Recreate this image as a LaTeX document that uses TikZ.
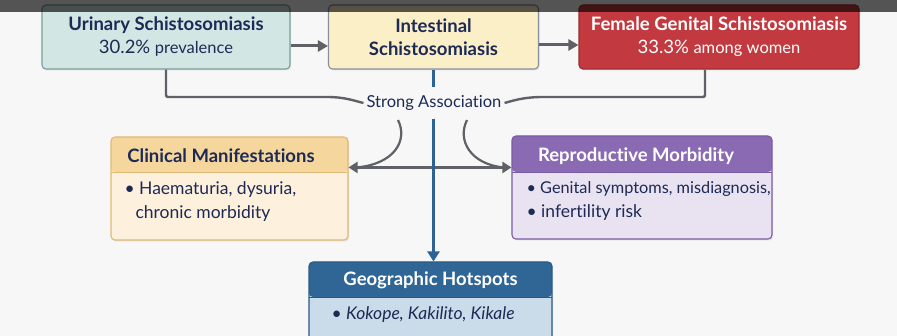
\documentclass[tikz,border=0pt]{standalone}
\usepackage{fontspec}
\setmainfont{Lato}[Ligatures=NoCommon]
\usetikzlibrary{arrows.meta,shadows,calc}
\definecolor{bg}{HTML}{F7F7F8}
\definecolor{navy}{HTML}{1C2A55}
\definecolor{tealf}{HTML}{D2E7E4}
\definecolor{teald}{HTML}{7E9C9C}
\definecolor{yelf}{HTML}{FBEFC8}
\definecolor{yeld}{HTML}{8A8F9E}
\definecolor{redf}{HTML}{C23A40}
\definecolor{redd}{HTML}{A02A30}
\definecolor{orh}{HTML}{F5D79E}
\definecolor{orb}{HTML}{FDF0DC}
\definecolor{ord}{HTML}{E2B876}
\definecolor{puh}{HTML}{8A6BB3}
\definecolor{pub}{HTML}{E9E2F1}
\definecolor{pud}{HTML}{7A5CA6}
\definecolor{blh}{HTML}{2F6695}
\definecolor{blb}{HTML}{CADCEA}
\definecolor{bld}{HTML}{285A86}
\definecolor{conn}{HTML}{5F6166}
\definecolor{bline}{HTML}{2C6394}
\begin{document}
\begin{tikzpicture}[x=1pt,y=-1pt,
  box/.style={rounded corners=4pt, line width=1.1pt, inner sep=0pt,
    drop shadow={opacity=0.18, shadow xshift=1pt, shadow yshift=-1.5pt}},
  ttl/.style={font=\bfseries\fontsize{18.5}{22}\selectfont, text=navy, align=center},
  bod/.style={font=\fontsize{17.5}{24}\selectfont, text=navy, align=left, anchor=north west},
  con/.style={draw=conn, line width=2.4pt},
  arr/.style={-{Triangle[length=10pt,width=11pt]}},
]
\fill[bg] (0,0) rectangle (897,336);
\useasboundingbox (0,0) rectangle (897,336);

% top row
\node[box, draw=teald, fill=tealf, minimum width=248pt, minimum height=64pt] (urinary) at (166,37) {};
\node[ttl, anchor=center] (urinaryT) at (166,37) {Urinary Schistosomiasis\\[1pt]{\mdseries\fontsize{18.5}{22}\selectfont 30.2\%} {\mdseries\fontsize{16.5}{22}\selectfont prevalence}};

\node[box, draw=yeld, fill=yelf, minimum width=210pt, minimum height=64pt] (intest) at (433.5,37) {};
\node[ttl] (intestT) at (433.5,37) {Intestinal\\[1pt]Schistosomiasis};

\node[box, draw=redd, fill=redf, minimum width=280pt, minimum height=64pt] (female) at (719,37) {};
\node[ttl, text=white] (femaleT) at (719,37) {Female Genital Schistosomiasis\\[1pt]{\mdseries\fontsize{18.5}{22}\selectfont 33.3\%} {\mdseries\fontsize{16.5}{22}\selectfont among women}};

\draw[con, line width=3pt, arr] (urinary.east |- 0,46) -- (intest.west |- 0,46);
\draw[con, line width=3pt, arr] (intest.east |- 0,45) -- (female.west |- 0,45);

% association label
\node[font=\fontsize{16.5}{18}\selectfont\mdseries, text=navy, inner xsep=3pt, inner ysep=8pt] (assoc) at (434,103) {Strong Association};

\draw[con, rounded corners=2pt] (urinary.south) -- (166,97) -- (325,97) .. controls (345,97) and (355,101) .. (assoc.west);
\draw[con, rounded corners=2pt] ([xshift=-14pt]female.south) -- (705,97) -- (545,97) .. controls (523,97) and (512,101) .. (assoc.east);

% middle boxes
\node[box, draw=ord, fill=orb, minimum width=237pt, minimum height=103pt,
  path picture={\fill[orh] (path picture bounding box.north west) rectangle ([yshift=-35pt]path picture bounding box.north east);
    \draw[ord, line width=0.8pt] ([yshift=-35pt]path picture bounding box.north west) -- ([yshift=-35pt]path picture bounding box.north east);}
  ] (clin) at (229.5,188.5) {};
\node[ttl, anchor=center] (clinT) at (221,156) {Clinical Manifestations};
\node[bod] (clinB) at (121,178) {\textbullet\ Haematuria, dysuria,\\\hspace{11pt}chronic morbidity};

\node[box, draw=pud, fill=pub, minimum width=260pt, minimum height=103pt,
  path picture={\fill[puh] (path picture bounding box.north west) rectangle ([yshift=-36pt]path picture bounding box.north east);
    \draw[pud, line width=0.8pt] ([yshift=-36pt]path picture bounding box.north west) -- ([yshift=-36pt]path picture bounding box.north east);}
  ] (repro) at (642,187.5) {};
\node[ttl, text=white] (reproT) at (636,156) {Reproductive Morbidity};
\node[bod] (reproB) at (523,178) {\fontsize{16.3}{24}\selectfont\textbullet\ Genital symptoms, misdiagnosis,\\\textbullet\ infertility risk};

% bottom box
\node[box, draw=bld, fill=blb, minimum width=243pt, minimum height=82pt,
  path picture={\fill[blh] (path picture bounding box.north west) rectangle ([yshift=-35pt]path picture bounding box.north east);
    \draw[bld, line width=0.8pt] ([yshift=-35pt]path picture bounding box.north west) -- ([yshift=-35pt]path picture bounding box.north east);}
  ] (geo) at (430.5,303) {};
\node[ttl, text=white] (geoT) at (430.5,280) {Geographic Hotspots};
\node[bod] (geoB) at (328,303) {\textbullet\ \itshape Kokope, Kakilito, Kikale};

% connectors to middle boxes
\coordinate (cl) at ($(clin.north east)+(0,31)$);
\coordinate (rp) at (cl -| repro.west);
\coordinate (lc) at (398,120);
\coordinate (rc) at (467,120);
\draw[con, line width=2.2pt, {Triangle[length=9pt,width=11pt]}-{Triangle[length=9pt,width=11pt]}] (cl) -- (rp);
\draw[con, line width=2.2pt] (lc) .. controls (408,140) and (395,164) .. ([xshift=8pt]cl);
\draw[con, line width=2.2pt] (rc) .. controls (457,140) and (470,164) .. ([xshift=-8pt]rp);

% blue vertical line
\draw[draw=bline, line width=2.6pt] (intest.south) -- (assoc.north -| intest.south);
\draw[draw=bline, line width=2.6pt, -{Triangle[length=10pt,width=12pt]}] (assoc.south -| intest.south) -- (geo.north -| intest.south);

% screenshot band
\fill[black, opacity=0.66] (0,0) rectangle (897,12);
\end{tikzpicture}
\end{document}
